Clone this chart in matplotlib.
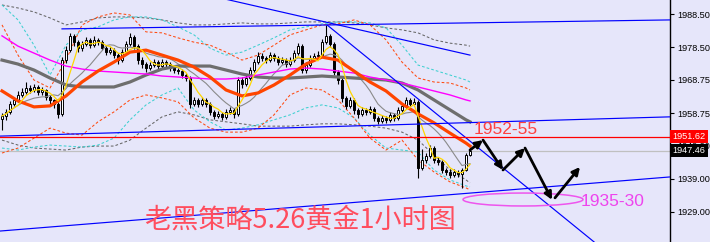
import numpy as np
import pandas as pd
import matplotlib
matplotlib.use("Agg")
import matplotlib.pyplot as plt
from matplotlib.patches import Ellipse
from matplotlib.transforms import blended_transform_factory

# ---- hourly gold candles ----
first_open = 1957.0
close = [1957.9, 1959.1, 1961.5, 1962.7, 1964.2, 1965.1, 1966.3, 1965.7, 1966.6, 1965.1,
         1965.7, 1963.6, 1962.7, 1961.5, 1958.5, 1974.7, 1977.7, 1982.0, 1980.1, 1978.3,
         1979.5, 1980.8, 1979.2, 1980.8, 1980.1, 1978.3, 1977.1, 1977.7, 1976.2, 1974.7,
         1977.1, 1979.5, 1981.7, 1978.9, 1974.7, 1973.5, 1972.3, 1973.2, 1974.1, 1972.9,
         1974.1, 1973.5, 1972.3, 1971.7, 1971.4, 1970.2, 1969.3, 1961.5, 1962.7, 1961.5,
         1962.7, 1961.5, 1959.1, 1957.9, 1958.5, 1957.6, 1959.1, 1959.7, 1958.5, 1968.7,
         1967.5, 1969.3, 1971.7, 1974.1, 1975.9, 1975.3, 1974.7, 1976.2, 1975.3, 1974.1,
         1974.7, 1973.5, 1974.7, 1976.8, 1978.9, 1971.7, 1973.2, 1975.3, 1975.9, 1976.2,
         1980.1, 1982.0, 1979.5, 1971.1, 1968.7, 1963.3, 1960.9, 1962.7, 1959.7, 1958.5,
         1959.7, 1959.1, 1960.0, 1957.3, 1956.4, 1957.3, 1956.7, 1958.2, 1957.3, 1959.7,
         1960.9, 1962.7, 1961.5, 1962.1, 1942.2, 1944.6, 1945.8, 1948.2, 1944.6, 1944.0,
         1941.6, 1941.0, 1940.1, 1941.0, 1940.4, 1941.6, 1946.1, 1947.46]
high = [1958.8, 1960.0, 1962.3, 1963.4, 1965.3, 1966.4, 1968.0, 1967.1, 1967.6, 1967.2,
        1966.5, 1966.1, 1964.2, 1963.1, 1962.0, 1975.6, 1978.8, 1983.0, 1982.6, 1980.9,
        1980.4, 1981.6, 1981.5, 1981.9, 1981.4, 1980.6, 1978.9, 1978.6, 1978.2, 1976.8,
        1977.9, 1980.3, 1983.0, 1982.3, 1979.4, 1975.5, 1974.2, 1974.0, 1975.0, 1974.7,
        1975.1, 1974.8, 1974.0, 1972.9, 1972.3, 1972.0, 1970.9, 1969.8, 1963.6, 1963.3,
        1963.5, 1963.2, 1962.0, 1959.8, 1959.4, 1959.2, 1960.0, 1960.6, 1960.3, 1969.6,
        1969.5, 1970.3, 1972.6, 1975.0, 1977.0, 1976.8, 1976.0, 1977.0, 1976.9, 1975.9,
        1975.6, 1975.2, 1975.5, 1977.6, 1979.9, 1979.5, 1974.0, 1976.1, 1976.8, 1977.3,
        1981.0, 1985.3, 1982.6, 1980.0, 1971.8, 1969.3, 1964.0, 1963.6, 1963.2, 1960.4,
        1960.6, 1960.3, 1960.9, 1960.5, 1958.0, 1958.1, 1957.9, 1959.0, 1958.8, 1960.5,
        1961.8, 1963.6, 1963.2, 1963.4, 1962.6, 1947.8, 1946.6, 1949.0, 1948.8, 1945.4,
        1944.6, 1942.3, 1941.8, 1941.9, 1941.6, 1942.2, 1946.8, 1948.3]
low = [1953.6, 1956.8, 1958.6, 1960.8, 1962.0, 1963.5, 1964.6, 1964.8, 1965.0, 1964.3,
       1964.2, 1962.8, 1961.6, 1960.2, 1957.4, 1957.8, 1973.9, 1977.0, 1978.9, 1977.2,
       1977.5, 1978.8, 1978.4, 1978.6, 1979.2, 1977.6, 1976.2, 1976.4, 1975.3, 1973.4,
       1974.0, 1976.5, 1979.0, 1978.0, 1973.6, 1972.4, 1971.2, 1971.6, 1972.5, 1972.0,
       1972.3, 1972.7, 1971.5, 1970.9, 1970.6, 1969.4, 1968.4, 1960.4, 1960.8, 1960.6,
       1960.9, 1960.7, 1958.2, 1957.0, 1957.2, 1956.6, 1957.0, 1958.4, 1957.4, 1958.0,
       1966.4, 1966.9, 1968.8, 1971.0, 1973.6, 1974.5, 1973.8, 1974.1, 1974.4, 1973.2,
       1973.4, 1972.6, 1972.9, 1974.2, 1976.2, 1970.8, 1970.9, 1972.6, 1974.6, 1975.0,
       1975.6, 1979.4, 1978.6, 1970.2, 1967.6, 1962.2, 1959.9, 1960.2, 1958.6, 1957.4,
       1957.9, 1958.2, 1958.5, 1956.4, 1955.5, 1955.7, 1955.6, 1956.0, 1956.4, 1956.8,
       1959.1, 1960.3, 1960.8, 1960.9, 1939.2, 1941.5, 1943.8, 1945.2, 1943.7, 1943.0,
       1940.6, 1940.0, 1939.2, 1939.5, 1939.6, 1936.2, 1941.2, 1945.7]

# ---- indicator readings, sampled every 4 bars ----
ind_bar = [0, 4, 8, 12, 16, 20, 24, 28, 32, 36, 40, 44, 48, 52, 56, 60, 64, 68, 72, 76,
           80, 84, 88, 92, 96, 100, 104, 108, 112, 116, 117]
ma_red = [1965.4, 1962.4, 1960.6, 1960.9, 1963.9, 1968.1, 1971.4, 1974.1, 1977.1, 1977.7,
          1976.2, 1974.7, 1972.6, 1969.6, 1965.7, 1963.9, 1964.8, 1967.2, 1970.2, 1973.5,
          1975.6, 1974.7, 1971.4, 1968.1, 1965.4, 1961.5, 1958.5, 1955.8, 1952.7, 1949.7, 1948.8]
ma_gray = [1974.7, 1973.5, 1971.7, 1969.3, 1967.2, 1966.6, 1966.6, 1966.6, 1968.1, 1970.2,
           1972.0, 1972.9, 1972.9, 1972.9, 1971.7, 1970.5, 1969.6, 1969.3, 1969.3, 1969.6,
           1969.9, 1969.6, 1969.3, 1969.0, 1968.7, 1967.8, 1965.7, 1962.7, 1959.7, 1956.7, 1956.1]
ma_magenta = [1982.0, 1978.9, 1976.8, 1974.7, 1972.9, 1972.0, 1971.4, 1971.1, 1970.8, 1970.5,
              1969.9, 1969.6, 1969.3, 1969.0, 1969.0, 1969.3, 1970.2, 1971.1, 1972.0, 1972.3,
              1972.0, 1971.4, 1970.8, 1969.6, 1968.7, 1967.8, 1966.6, 1965.4, 1964.2, 1962.7, 1962.4]
bb_orange_up = [1985.3, 1976.2, 1968.7, 1966.3, 1974.7, 1985.3, 1987.7, 1988.9, 1988.3, 1983.2,
                1982.9, 1981.4, 1980.1, 1979.2, 1977.1, 1974.7, 1976.2, 1979.2, 1982.3, 1983.8,
                1985.3, 1985.6, 1986.8, 1985.3, 1980.8, 1974.1, 1969.3, 1968.1, 1967.8, 1966.3, 1965.7]
bb_orange_dn = [1946.7, 1948.2, 1951.2, 1954.2, 1952.7, 1952.1, 1956.1, 1959.1, 1962.7, 1964.2,
                1963.3, 1962.1, 1957.3, 1954.2, 1953.0, 1953.0, 1954.2, 1958.2, 1964.2, 1966.3,
                1965.7, 1962.7, 1957.3, 1951.2, 1947.6, 1950.6, 1944.6, 1941.0, 1938.0, 1936.2, 1935.6]
bb_cyan_up = [1991.3, 1986.8, 1979.2, 1970.2, 1979.2, 1983.8, 1984.7, 1986.8, 1987.7, 1987.7,
              1986.8, 1984.7, 1982.3, 1978.3, 1976.2, 1977.1, 1979.2, 1981.4, 1983.8, 1984.7,
              1985.6, 1986.2, 1986.2, 1985.9, 1984.4, 1979.2, 1973.2, 1971.7, 1970.2, 1968.7, 1968.1]
bb_cyan_dn = [1948.2, 1947.6, 1948.5, 1949.1, 1948.8, 1948.5, 1949.1, 1951.2, 1956.7, 1961.2,
              1964.2, 1966.3, 1959.7, 1956.1, 1953.6, 1954.2, 1955.2, 1956.7, 1958.2, 1960.3,
              1961.2, 1960.3, 1957.3, 1952.1, 1948.2, 1947.6, 1947.0, 1941.6, 1938.6, 1936.8, 1936.5]
bb_gray_up = [1991.3, 1990.4, 1989.2, 1987.4, 1985.3, 1986.2, 1987.4, 1987.7, 1987.7, 1987.4,
              1986.8, 1985.9, 1985.3, 1985.3, 1985.6, 1985.9, 1985.6, 1985.6, 1985.9, 1986.2,
              1986.2, 1986.2, 1985.9, 1985.3, 1984.4, 1983.8, 1982.9, 1980.8, 1979.8, 1979.2, 1978.9]
bb_gray_dn = [1950.6, 1949.1, 1948.2, 1947.9, 1947.6, 1948.5, 1948.8, 1948.8, 1950.6, 1954.2,
              1957.6, 1959.1, 1958.2, 1956.7, 1956.1, 1955.5, 1954.8, 1954.8, 1954.8, 1955.2,
              1955.5, 1955.5, 1955.2, 1954.8, 1954.2, 1953.0, 1950.6, 1946.1, 1941.6, 1938.6, 1937.7]

# ---- drawn objects: trend lines (bar, price) ----
trend_top = [(15.0, 1984.1), (167.0, 1986.8)]
trend_mid = [(-0.5, 1951.8), (167.0, 1957.6)]
trend_low = [(-0.5, 1923.2), (167.0, 1939.5)]
trend_fall_steep = [(81.25, 1985.3), (151.0, 1917.0)]
trend_fall_upper = [(55.0, 1993.3), (117.0, 1976.2)]
resist_price = 1951.62
bid_price = 1947.46
forecast_path = [(117.0, 1947.6), (120.25, 1950.6), (125.25, 1941.6), (130.75, 1948.2), (137.5, 1932.6)]
forecast_bounce = [(138.25, 1933.2), (144.5, 1942.5)]
target_zone = (130.25, 1932.7)

ytick_vals = [1988.50, 1978.50, 1968.75, 1958.75, 1949.00, 1939.00, 1929.00]

BG = "#E6E6FA"
fig = plt.figure(figsize=(7.10, 2.42), dpi=100, facecolor=BG)
ax = fig.add_axes([0, 0, 670 / 710, 1], facecolor=BG)

n = len(close)
bars = np.arange(n)
opens = [first_open] + close[:-1]

# Bollinger style envelopes
dash = (0, (2.6, 2.0))
for up, dn, col in [(bb_gray_up, bb_gray_dn, "#666666"),
                    (bb_cyan_up, bb_cyan_dn, "#3ED0D0"),
                    (bb_orange_up, bb_orange_dn, "#FF4A10")]:
    ax.plot(ind_bar, up, color=col, lw=0.75, ls=dash, zorder=2)
    ax.plot(ind_bar, dn, color=col, lw=0.75, ls=dash, zorder=2)

# candles
for i in bars:
    o, c, h, l = opens[i], close[i], high[i], low[i]
    ax.vlines(i, l, h, color="black", lw=0.8, zorder=3)
    bull = c >= o
    body_lo, body_h = min(o, c), max(abs(c - o), 0.25)
    ax.bar(i, body_h, bottom=body_lo, width=0.72,
           facecolor="white" if bull else "black", edgecolor="black",
           linewidth=0.7, zorder=4)

# moving averages
cs = pd.Series(close)
ax.plot(bars, cs.rolling(12, min_periods=1).mean(), color="#8A8A8A", lw=0.8, zorder=5)
ax.plot(ind_bar, ma_gray, color="#6E6E6E", lw=2.3, zorder=5)
ax.plot(ind_bar, ma_magenta, color="#FF00FF", lw=1.0, zorder=5)
ax.plot(ind_bar, ma_red, color="#FF4500", lw=2.3, zorder=6)
ax.plot(bars, cs.rolling(5, min_periods=1).mean(), color="#FFD700", lw=0.9, zorder=6)

# trend lines
for seg in [trend_top, trend_mid, trend_low, trend_fall_steep, trend_fall_upper]:
    (x0, y0), (x1, y1) = seg
    ax.plot([x0, x1], [y0, y1], color="#0000FF", lw=0.85, zorder=7)

# price lines
ax.axhline(resist_price, color="#FF0000", lw=0.9, zorder=7)
ax.axhline(bid_price, color="#C0C0C0", lw=0.9, zorder=1)

# forecast arrows
def arrow(p0, p1):
    ax.annotate("", xy=p1, xytext=p0,
                arrowprops=dict(arrowstyle="-|>", color="black", lw=2.0,
                                mutation_scale=11, shrinkA=0, shrinkB=0),
                zorder=9)

for a, b in zip(forecast_path[:-1], forecast_path[1:]):
    arrow(a, b)
arrow(*forecast_bounce)

ax.add_patch(Ellipse(target_zone, width=30, height=3.9, fill=False,
                     edgecolor="#EE55EE", lw=1.1, zorder=8))

ax.text(125.8, 1953.7, "1952-55", color="#FF4040", fontsize=12.5,
        family="Liberation Sans", ha="center", va="center", zorder=10)
ax.text(152.6, 1932.0, "1935-30", color="#EE44EE", fontsize=12.5,
        family="Liberation Sans", ha="center", va="center", zorder=10)
ax.text(74.5, 1926.6, "老黑策略5.26黄金1小时图", color="#FF4D5E", fontsize=19.5,
        family=["Noto Sans CJK SC", "DejaVu Sans"], ha="center", va="center", zorder=10)

# axes
ax.set_xlim(-0.5, 167)
ax.set_ylim(1919.9, 1992.8)
for s in ["top", "left", "bottom"]:
    ax.spines[s].set_visible(False)
ax.spines["right"].set_color("black")
ax.spines["right"].set_linewidth(1.0)
ax.set_xticks([])
ax.yaxis.tick_right()
ax.set_yticks(ytick_vals)
ax.set_yticklabels([f"{v:.2f}" for v in ytick_vals], fontsize=6.6,
                   family="Liberation Sans")
ax.tick_params(axis="y", length=3, width=0.8, pad=2, colors="black")

tr = blended_transform_factory(ax.transAxes, ax.transData)
ax.text(1.004, resist_price, f"{resist_price:.2f}", transform=tr, color="white",
        fontsize=6.6, family="Liberation Sans", ha="left", va="center", zorder=12,
        clip_on=False,
        bbox=dict(facecolor="#FF0000", edgecolor="none", pad=1.6))
ax.text(1.004, bid_price, f"{bid_price:.2f}", transform=tr, color="white",
        fontsize=6.6, family="Liberation Sans", ha="left", va="center", zorder=12,
        clip_on=False,
        bbox=dict(facecolor="black", edgecolor="none", pad=1.6))

fig.savefig("out.png", dpi=100, facecolor=BG)
